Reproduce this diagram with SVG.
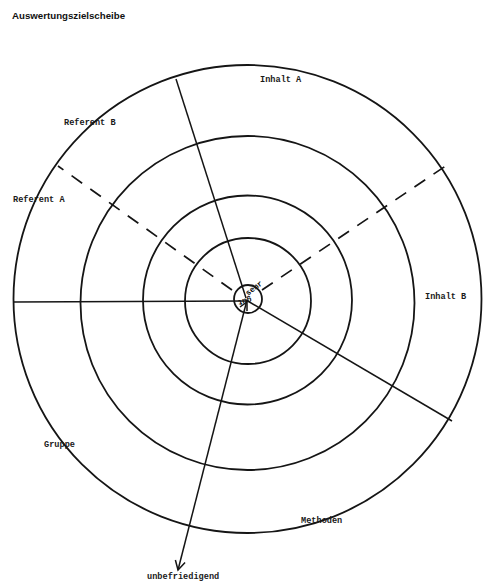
<svg xmlns="http://www.w3.org/2000/svg" width="487" height="581" viewBox="0 0 487 581">
<defs>
<style>
.ring{fill:none;stroke:#151515;stroke-width:1.8}
.ln{stroke:#151515;stroke-width:1.5;fill:none}
.dash{stroke:#151515;stroke-width:1.7;stroke-dasharray:13 10;fill:none}
.lbl{font-family:"Liberation Mono",monospace;font-size:8.6px;font-weight:bold;fill:#1a1a1a}
.ctr{font-family:"Liberation Mono",monospace;font-size:8px;font-weight:bold;fill:#111}
.title{font-family:"Liberation Sans",Arial,sans-serif;font-size:9.7px;font-weight:bold;fill:#111}
</style>
<marker id="arr" markerWidth="12" markerHeight="12" refX="10" refY="6" orient="auto" markerUnits="userSpaceOnUse">
<path d="M1,1 L10,6 L1,11" fill="none" stroke="#151515" stroke-width="1.5"/>
</marker>
</defs>
<rect width="487" height="581" fill="#ffffff"/>
<text class="title" x="12" y="19">Auswertungszielscheibe</text>
<g id="connectors">
<line class="ln" x1="246" y1="298" x2="176" y2="79"/>
<line class="ln" x1="246" y1="301" x2="14" y2="302"/>
<line class="ln" x1="246" y1="300" x2="452" y2="421"/>
<line class="ln" x1="247" y1="300" x2="178" y2="570" marker-end="url(#arr)"/>
<path class="ln" d="M240,307 L247,302 L247,311"/>
<line class="dash" x1="232" y1="290" x2="58" y2="166"/>
<line class="dash" x1="262" y1="290" x2="447" y2="165"/>
</g>
<g id="ring-outer"><circle class="ring" cx="247.5" cy="299" r="234"/></g>
<g id="ring-4"><circle class="ring" cx="247.5" cy="303" r="167"/></g>
<g id="ring-3"><circle class="ring" cx="247.5" cy="300" r="104.5"/></g>
<g id="ring-2"><circle class="ring" cx="248" cy="301" r="63"/></g>
<g id="ring-center"><circle class="ring" cx="248" cy="299" r="14"/></g>
<g id="label-center">
<text class="ctr" x="0" y="0" transform="translate(248,296) rotate(-38)">sehr</text>
<text class="ctr" x="0" y="0" transform="translate(251,297) rotate(165)">gut</text>
</g>
<g id="label-inhalt-a"><text class="lbl" x="260" y="82">Inhalt A</text></g>
<g id="label-referent-b"><text class="lbl" x="64" y="125">Referent B</text></g>
<g id="label-referent-a"><text class="lbl" x="13" y="202">Referent A</text></g>
<g id="label-inhalt-b"><text class="lbl" x="425" y="299">Inhalt B</text></g>
<g id="label-gruppe"><text class="lbl" x="44" y="447">Gruppe</text></g>
<g id="label-methoden"><text class="lbl" x="301" y="523">Methoden</text></g>
<g id="label-unbefriedigend"><text class="lbl" x="147" y="579">unbefriedigend</text></g>
</svg>
